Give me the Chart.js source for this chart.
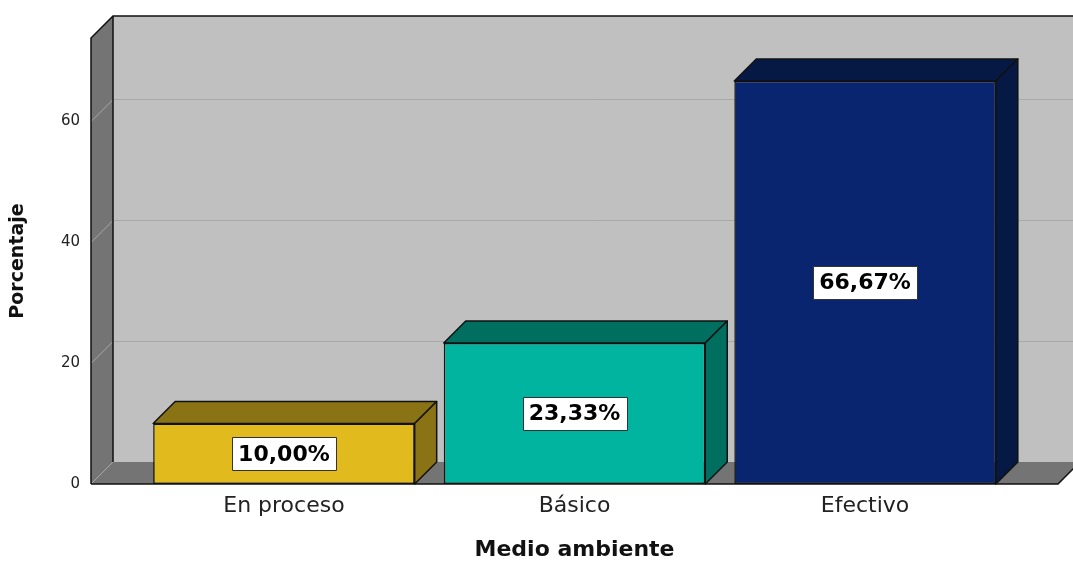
<!DOCTYPE html>
<html>
<head>
<meta charset="utf-8">
<title>Medio ambiente</title>
<script src="https://cdn.jsdelivr.net/npm/chart.js@4.4.1/dist/chart.umd.min.js"></script>
<style>
  html, body { margin: 0; padding: 0; background: #ffffff; }
  canvas { display: block; }
</style>
</head>
<body>
<canvas id="chart" width="1073" height="561"></canvas>
<script>
// Data
const categories = ['En proceso', 'Básico', 'Efectivo'];
const percentages = [10.00, 23.33, 66.67];
const yTickValues = [0, 20, 40, 60];

// Styles
const faceColors = ['#E1BA1E', '#00B4A0', '#0A2570'];
const shadeColors = ['#8A7314', '#006F60', '#061844'];
const DEPTH = 22;
const WALL_BACK = '#C0C0C0';
const WALL_SIDE = '#747474';
const GRID = '#A8A8A8';
const EDGE = '#111111';

function poly(ctx, pts) {
  ctx.beginPath();
  ctx.moveTo(pts[0][0], pts[0][1]);
  for (let i = 1; i < pts.length; i++) ctx.lineTo(pts[i][0], pts[i][1]);
  ctx.closePath();
}

function formatPct(v) {
  return v.toFixed(2).replace('.', ',') + '%';
}

// Back wall, left wall, floor and grid lines of the 3D box
const boxPlugin = {
  id: 'box3d',
  beforeDatasetsDraw(chart) {
    const { ctx, chartArea: a, scales: { y } } = chart;
    const D = DEPTH, L = a.left, R = a.right, T = a.top, B = a.bottom;
    const W = chart.width + 10;
    ctx.save();
    ctx.fillStyle = WALL_BACK;
    ctx.fillRect(L + D, T - D, W - L - D, B - T);

    ctx.fillStyle = WALL_SIDE;
    poly(ctx, [[L, T], [L + D, T - D], [L + D, B - D], [L, B]]);
    ctx.fill();
    poly(ctx, [[L, B], [L + D, B - D], [R + D, B - D], [R, B]]);
    ctx.fill();

    ctx.strokeStyle = GRID;
    ctx.lineWidth = 1;
    yTickValues.forEach(v => {
      if (v === 0) return;
      const yf = Math.round(y.getPixelForValue(v)) + 0.5;
      ctx.beginPath();
      ctx.moveTo(L, yf);
      ctx.lineTo(L + D, yf - D);
      ctx.lineTo(W, yf - D);
      ctx.stroke();
    });
    ctx.beginPath();
    ctx.moveTo(L, B);
    ctx.lineTo(L + D, B - D);
    ctx.stroke();

    ctx.strokeStyle = EDGE;
    ctx.lineWidth = 1.5;
    ctx.beginPath();
    ctx.moveTo(L, B);
    ctx.lineTo(L, T);
    ctx.lineTo(L + D, T - D);
    ctx.lineTo(W, T - D);
    ctx.moveTo(L + D, T - D);
    ctx.lineTo(L + D, B - D);
    ctx.moveTo(L, B);
    ctx.lineTo(R, B);
    ctx.lineTo(R + D, B - D);
    ctx.stroke();
    ctx.restore();
  },
  afterDatasetsDraw(chart) {
    const { ctx } = chart;
    const D = DEPTH;
    const meta = chart.getDatasetMeta(0);
    ctx.save();
    meta.data.forEach((bar, i) => {
      const { x, y: top, base, width } = bar.getProps(['x', 'y', 'base', 'width'], true);
      const x1 = x - width / 2, x2 = x + width / 2;
      ctx.fillStyle = shadeColors[i];
      ctx.strokeStyle = EDGE;
      ctx.lineWidth = 1.5;
      ctx.lineJoin = 'round';
      poly(ctx, [[x1, top], [x1 + D, top - D], [x2 + D, top - D], [x2, top]]);
      ctx.fill();
      ctx.stroke();
      poly(ctx, [[x2, top], [x2 + D, top - D], [x2 + D, base - D], [x2, base]]);
      ctx.fill();
      ctx.stroke();
    });

    // value labels in white boxes
    ctx.font = 'bold 22px "DejaVu Sans"';
    ctx.textAlign = 'center';
    ctx.textBaseline = 'middle';
    meta.data.forEach((bar, i) => {
      const { x, y: top, base } = bar.getProps(['x', 'y', 'base'], true);
      const text = formatPct(percentages[i]);
      const tw = ctx.measureText(text).width;
      const cy = (top + base) / 2;
      const bw = Math.round(tw + 12), bh = 33;
      const bx = Math.round(x - bw / 2) + 0.5, by = Math.round(cy - bh / 2) + 0.5;
      ctx.fillStyle = '#ffffff';
      ctx.fillRect(bx, by, bw, bh);
      ctx.strokeStyle = '#333333';
      ctx.lineWidth = 1;
      ctx.strokeRect(bx, by, bw, bh);
      ctx.fillStyle = '#000000';
      ctx.fillText(text, x, cy + 1);
    });
    ctx.restore();
  }
};

new Chart(document.getElementById('chart'), {
  type: 'bar',
  data: {
    datasets: [{
      label: 'Porcentaje',
      data: percentages.map((v, i) => ({ x: i, y: v })),
      backgroundColor: faceColors,
      borderColor: EDGE,
      borderWidth: 1.5,
      borderSkipped: false,
      categoryPercentage: 0.9,
      barPercentage: 1.0
    }]
  },
  options: {
    responsive: false,
    animation: false,
    devicePixelRatio: 1,
    layout: { padding: { top: 38, right: 15, left: 0, bottom: 0 } },
    plugins: { legend: { display: false }, tooltip: { enabled: false } },
    scales: {
      x: {
        type: 'linear',
        offset: false,
        min: -0.664,
        max: 2.664,
        grid: { display: false, drawTicks: false, offset: false },
        border: { display: false },
        afterBuildTicks(scale) {
          scale.ticks = categories.map((_, i) => ({ value: i }));
        },
        afterFit(scale) { scale.height = 77; },
        ticks: {
          padding: 9,
          maxRotation: 0,
          autoSkip: false,
          color: '#222222',
          font: { family: 'DejaVu Sans', size: 22 },
          callback: (v) => categories[v] ?? ''
        },
        title: {
          display: true,
          text: 'Medio ambiente',
          color: '#111111',
          font: { family: 'DejaVu Sans', size: 22, weight: 'bold', lineHeight: 1 },
          padding: { top: 0, bottom: 0 }
        }
      },
      y: {
        min: 0,
        max: 73.8,
        grid: { display: false, drawTicks: false },
        border: { display: false },
        afterBuildTicks(scale) {
          scale.ticks = yTickValues.map(v => ({ value: v }));
        },
        afterFit(scale) { scale.width = 91; },
        ticks: {
          padding: 11,
          color: '#222222',
          font: { family: 'DejaVu Sans', size: 15 }
        },
        title: {
          display: true,
          text: 'Porcentaje',
          color: '#111111',
          font: { family: 'DejaVu Sans', size: 19, weight: 'bold', lineHeight: 1 },
          padding: { top: 9, bottom: 0 }
        }
      }
    }
  },
  plugins: [boxPlugin]
});
</script>
</body>
</html>
